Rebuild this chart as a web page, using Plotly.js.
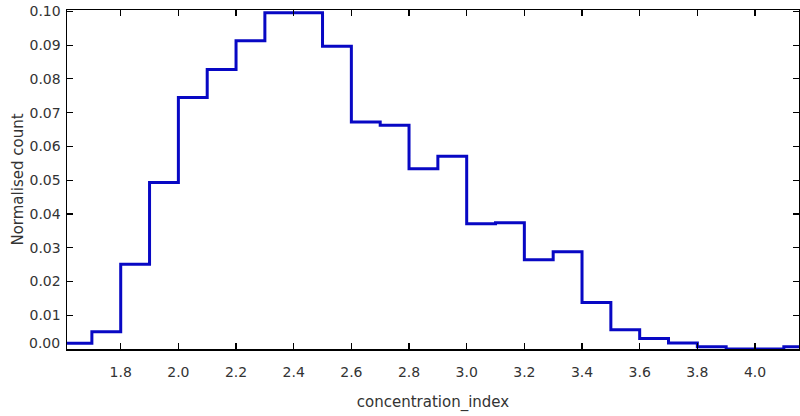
<!DOCTYPE html>
<html>
<head>
<meta charset="utf-8">
<script src="https://cdn.plot.ly/plotly-3.0.1.min.js"></script>
<style>
  html, body { margin: 0; padding: 0; background: #fff; }
  #chart { width: 800px; height: 416px; }
</style>
</head>
<body>
<div id="chart"></div>
<script>
// Histogram of concentration_index, bins of width 0.1
const binStarts = [1.6, 1.7, 1.8, 1.9, 2.0, 2.1, 2.2, 2.3, 2.4, 2.5, 2.6, 2.7, 2.8,
                   2.9, 3.0, 3.1, 3.2, 3.3, 3.4, 3.5, 3.6, 3.7, 3.8, 3.9, 4.0, 4.1];
const binWidth = 0.1;
const normalisedCount = [0.0017, 0.0051, 0.0251, 0.0493, 0.0745, 0.0828, 0.0913, 0.0996,
                         0.0996, 0.0897, 0.0672, 0.0663, 0.0534, 0.0571, 0.0371, 0.0374,
                         0.0264, 0.0288, 0.0138, 0.0057, 0.0031, 0.0018, 0.0007, 0.0,
                         0.0, 0.0007];
const xTicks = [1.8, 2.0, 2.2, 2.4, 2.6, 2.8, 3.0, 3.2, 3.4, 3.6, 3.8, 4.0];
const yTicks = [0.00, 0.01, 0.02, 0.03, 0.04, 0.05, 0.06, 0.07, 0.08, 0.09, 0.10];

// Step outline: each bin's left edge, plus the closing right edge of the last bin
const stepX = binStarts.concat([binStarts[binStarts.length - 1] + binWidth]);
const stepY = normalisedCount.concat([normalisedCount[normalisedCount.length - 1]]);

const tickFont = { family: 'DejaVu Sans, Verdana, sans-serif', size: 14, color: '#333333' };
const titleFont = { family: 'DejaVu Sans, Verdana, sans-serif', size: 15, color: '#333333' };

const axisCommon = {
  showline: true,
  linecolor: '#000000',
  linewidth: 1.5,
  mirror: 'ticks',
  ticks: 'inside',
  ticklen: 6,
  tickwidth: 1.2,
  tickcolor: '#000000',
  showgrid: false,
  zeroline: false,
  tickfont: tickFont
};

const trace = {
  type: 'scatter',
  mode: 'lines',
  x: stepX,
  y: stepY,
  line: { shape: 'hv', color: '#0808c4', width: 3 },
  hoverinfo: 'x+y'
};

const layout = {
  width: 800,
  height: 416,
  margin: { l: 67, r: 1, t: 10, b: 67 },
  paper_bgcolor: '#ffffff',
  plot_bgcolor: '#ffffff',
  font: tickFont,
  showlegend: false,
  xaxis: Object.assign({}, axisCommon, {
    range: [1.6137, 4.1526],
    tickvals: xTicks,
    ticktext: xTicks.map(v => v.toFixed(1)),
    ticklabelstandoff: 10,
    title: { text: 'concentration_index', font: titleFont, standoff: 17 }
  }),
  yaxis: Object.assign({}, axisCommon, {
    range: [0, 0.1004],
    tickvals: yTicks,
    // the zero label sits just above the axis corner, drawn as an annotation
    ticktext: yTicks.map(v => v === 0 ? '' : v.toFixed(2)),
    ticklabelstandoff: 2,
    title: { text: 'Normalised count', font: titleFont, standoff: 2 }
  }),
  annotations: [{
    xref: 'paper', yref: 'y',
    x: 0, y: 0,
    xanchor: 'right', yanchor: 'middle',
    xshift: -5, yshift: 6,
    text: '0.00',
    showarrow: false,
    font: tickFont
  }]
};

Plotly.newPlot('chart', [trace], layout, { displayModeBar: false, staticPlot: true });
</script>
</body>
</html>
